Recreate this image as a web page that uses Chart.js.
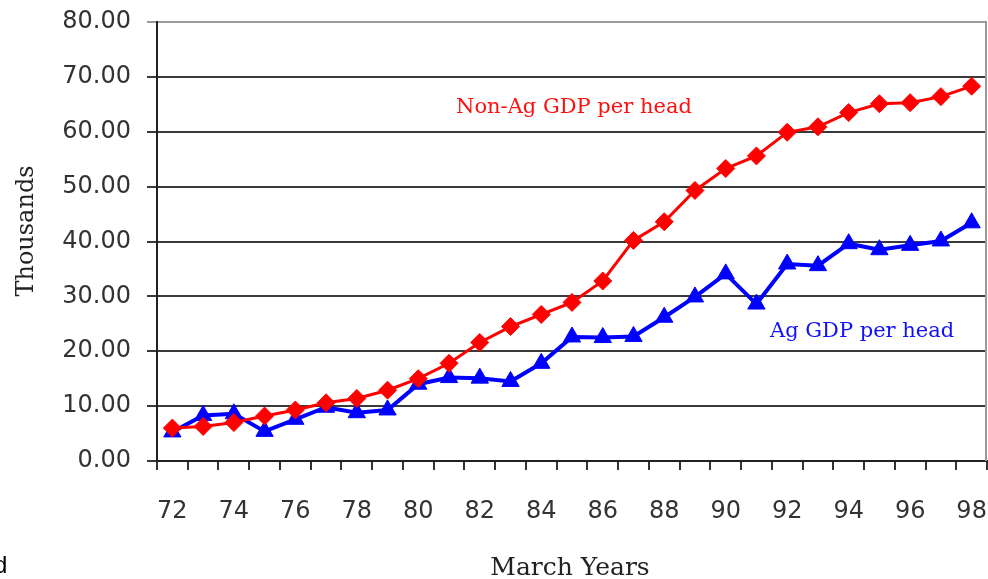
<!DOCTYPE html>
<html>
<head>
<meta charset="utf-8">
<script src="https://cdn.jsdelivr.net/npm/chart.js@4/dist/chart.umd.min.js"></script>
<style>
  html, body { margin: 0; padding: 0; background: #ffffff; overflow: hidden; }
  #wrap { width: 988px; height: 579px; position: relative; overflow: hidden; }
  #c { display: block; }
</style>
</head>
<body>
<div id="wrap"><canvas id="c" width="998" height="579"></canvas></div>
<script>
// March years, 1972 to 1998
const years = ['72','73','74','75','76','77','78','79','80','81','82','83','84',
               '85','86','87','88','89','90','91','92','93','94','95','96','97','98'];

// GDP per head, thousands
const nonAgGdpPerHead = [6.0, 6.3, 7.0, 8.2, 9.3, 10.6, 11.4, 12.9, 15.0, 17.8, 21.6, 24.5, 26.7,
                         28.9, 32.8, 40.2, 43.6, 49.3, 53.3, 55.6, 59.9, 60.9, 63.5, 65.1, 65.3, 66.4, 68.3];
const agGdpPerHead    = [5.3, 8.3, 8.6, 5.4, 7.6, 9.8, 8.8, 9.3, 14.0, 15.2, 15.1, 14.5, 17.8,
                         22.6, 22.5, 22.7, 26.2, 29.9, 34.1, 28.6, 35.9, 35.6, 39.6, 38.5, 39.3, 40.1, 43.4];

// y axis range and step
const yMin = 0, yMax = 80, yStep = 10;

const seriesNames = ['Non-Ag GDP per head', 'Ag GDP per head'];
const yTitle = 'Thousands';
const xTitle = 'March Years';

const SERIF = '"DejaVu Serif", "Liberation Serif", serif';
const SANS = '"DejaVu Sans", "Liberation Sans", sans-serif';

// Series names written beside their lines, axis titles and the plot frame
const annotations = {
  id: 'annotations',
  beforeDatasetsDraw(chart) {
    const { ctx, chartArea: a } = chart;
    ctx.save();
    ctx.strokeStyle = '#9a9a9a';
    ctx.lineWidth = 2;
    ctx.beginPath();
    ctx.moveTo(a.right - 1, a.top);
    ctx.lineTo(a.right - 1, a.bottom);
    ctx.stroke();
    ctx.restore();
  },
  afterDraw(chart) {
    const { ctx } = chart;
    ctx.save();
    ctx.textBaseline = 'alphabetic';

    ctx.font = '21px ' + SERIF;
    ctx.fillStyle = '#ff1010';
    ctx.textAlign = 'left';
    ctx.fillText(seriesNames[0], 456, 113);

    ctx.fillStyle = '#1010ff';
    ctx.fillText(seriesNames[1], 770, 337);

    ctx.fillStyle = '#222222';
    ctx.font = '25px ' + SERIF;
    ctx.textAlign = 'center';
    ctx.fillText(xTitle, 570, 575);

    ctx.save();
    ctx.translate(33, 231);
    ctx.rotate(-Math.PI / 2);
    ctx.font = '24px ' + SERIF;
    ctx.fillText(yTitle, 0, 0);
    ctx.restore();

    ctx.fillStyle = '#000000';
    ctx.font = '24px "Liberation Sans", sans-serif';
    ctx.textAlign = 'left';
    ctx.fillText('d', -6, 573);
    ctx.restore();
  }
};

new Chart(document.getElementById('c'), {
  type: 'line',
  data: {
    labels: years,
    datasets: [
      {
        label: seriesNames[0],
        data: nonAgGdpPerHead,
        borderColor: '#ff0000',
        backgroundColor: '#ff0000',
        borderWidth: 3,
        pointStyle: 'rectRot',
        pointRadius: 9,
        pointBorderWidth: 1,
        pointBackgroundColor: '#ff0000',
        pointBorderColor: '#ff0000',
        tension: 0
      },
      {
        label: seriesNames[1],
        data: agGdpPerHead,
        borderColor: '#0000ff',
        backgroundColor: '#0000ff',
        borderWidth: 4,
        pointStyle: 'triangle',
        pointRadius: 10,
        pointBorderWidth: 1,
        pointBackgroundColor: '#0000ff',
        pointBorderColor: '#0000ff',
        tension: 0
      }
    ]
  },
  options: {
    responsive: false,
    animation: false,
    devicePixelRatio: 1,
    layout: { padding: { top: 22, right: 2, left: 0, bottom: 0 } },
    plugins: {
      legend: { display: false },
      tooltip: { enabled: false }
    },
    scales: {
      x: {
        type: 'category',
        offset: true,
        border: { display: true, color: '#222222', width: 2 },
        grid: {
          offset: true,
          drawOnChartArea: false,
          drawTicks: true,
          tickLength: 9,
          color: '#333333',
          lineWidth: 2
        },
        ticks: {
          autoSkip: false,
          maxRotation: 0,
          padding: 0,
          color: '#333333',
          // tall line box keeps the year labels well below the tick marks
          font: { family: SANS, size: 24, lineHeight: 3.45 },
          callback: function (v, i) { return i % 2 === 0 ? this.getLabelForValue(v) : ''; }
        },
        afterFit(scale) {
          scale.height = 118;
          scale.paddingLeft = 0;
          scale.paddingRight = 0;
        }
      },
      y: {
        min: yMin,
        max: yMax,
        border: { display: true, color: '#222222', width: 2 },
        grid: {
          drawTicks: true,
          tickLength: 10,
          color: (c) => (c.tick && c.tick.value === yMax ? '#9a9a9a' : '#3a3a3a'),
          lineWidth: 2
        },
        ticks: {
          stepSize: yStep,
          padding: 16,
          color: '#333333',
          font: { family: SANS, size: 24 },
          callback: (v) => Number(v).toFixed(2)
        },
        afterFit(scale) {
          scale.width = 157;
          scale.paddingTop = 0;
          scale.paddingBottom = 0;
        }
      }
    }
  },
  plugins: [annotations]
});
</script>
</body>
</html>
